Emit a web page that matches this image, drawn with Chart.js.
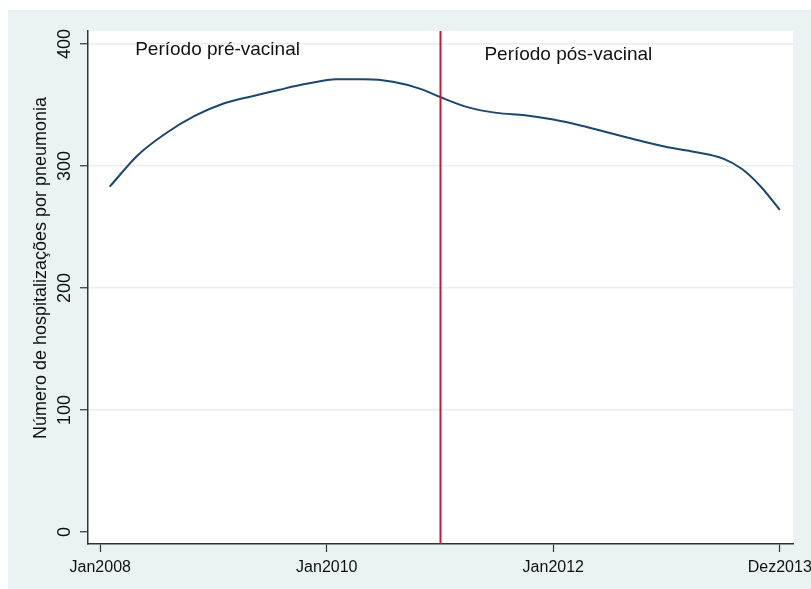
<!DOCTYPE html>
<html>
<head>
<meta charset="utf-8">
<script src="https://cdn.jsdelivr.net/npm/chart.js@4.4.1/dist/chart.umd.min.js"></script>
<style>
  html, body { margin: 0; padding: 0; background: #fff; }
  #wrap { width: 811px; height: 589px; }
</style>
</head>
<body>
<div id="wrap"><canvas id="chart" width="811" height="589"></canvas></div>
<script>
// meses contados a partir de Jan2008 (0 = Jan2008)
const months = [1, 4, 7, 10, 13, 16, 19, 22, 25, 28, 31, 34, 36, 39, 42, 45, 48, 51, 54, 57, 60, 63, 66, 68, 70, 72];
const hospitalizacoes = [283, 309, 327, 341, 351, 357, 362.5, 367.5, 371, 371, 369, 363, 356.5, 348, 343.5, 341.5, 338, 333, 327, 321, 315.5, 311.5, 306, 297.5, 283, 264];

const xTickValues = [0, 24, 48, 72];
const xTickLabels = ['Jan2008', 'Jan2010', 'Jan2012', 'Dez2013'];
const yTickValues = [0, 100, 200, 300, 400];

const vacinaMonth = 36;
const periodLabels = ['Período pré-vacinal', 'Período pós-vacinal'];
const periodX = [3.7, 40.7];
const periodY = [395, 391];

const yTitle = 'Número de hospitalizações por pneumonia';
const FONT = '"Liberation Sans", Arial, Helvetica, sans-serif';

// fundo, linha vertical, textos
const stataPlugin = {
    id: 'stata',
    beforeDraw(chart) {
        const ctx = chart.ctx;
        const a = chart.chartArea;
        ctx.save();
        ctx.fillStyle = '#eaf2f3';
        ctx.fillRect(8, 10, chart.width - 8, chart.height - 10);
        ctx.fillStyle = '#ffffff';
        ctx.fillRect(a.left, a.top, a.right - a.left, a.bottom - a.top);
        ctx.restore();
    },
    afterDatasetsDraw(chart) {
        const ctx = chart.ctx;
        const a = chart.chartArea;
        const xs = chart.scales.x;
        const ys = chart.scales.y;
        ctx.save();
        // linha de introdução da vacina
        const vx = Math.round(xs.getPixelForValue(vacinaMonth)) + 0.5;
        ctx.strokeStyle = '#c8173f';
        ctx.lineWidth = 2;
        ctx.beginPath();
        ctx.moveTo(vx, a.top);
        ctx.lineTo(vx, a.bottom);
        ctx.stroke();

        ctx.fillStyle = '#111';
        ctx.font = '19px ' + FONT;
        ctx.textAlign = 'left';
        ctx.textBaseline = 'middle';
        periodLabels.forEach((t, i) => {
            ctx.fillText(t, xs.getPixelForValue(periodX[i]), ys.getPixelForValue(periodY[i]));
        });

        // rótulos do eixo y (rotacionados)
        ctx.font = '18px ' + FONT;
        ctx.textAlign = 'center';
        ctx.textBaseline = 'middle';
        yTickValues.forEach(v => {
            ctx.save();
            ctx.translate(65, ys.getPixelForValue(v));
            ctx.rotate(-Math.PI / 2);
            ctx.fillText(String(v), 0, 0);
            ctx.restore();
        });

        // título do eixo y
        ctx.save();
        ctx.translate(41, 268);
        ctx.rotate(-Math.PI / 2);
        ctx.fillText(yTitle, 0, 0);
        ctx.restore();
        ctx.restore();
    }
};

const chart = new Chart(document.getElementById('chart').getContext('2d'), {
    type: 'line',
    data: {
        datasets: [{
            label: 'Hospitalizações',
            data: months.map((m, i) => ({ x: m, y: hospitalizacoes[i] })),
            borderColor: '#1a476f',
            borderWidth: 2,
            pointRadius: 0,
            fill: false,
            cubicInterpolationMode: 'monotone'
        }]
    },
    options: {
        responsive: false,
        animation: false,
        layout: { padding: { left: 0, top: 31, right: 18, bottom: 0 } },
        plugins: {
            legend: { display: false },
            tooltip: { enabled: false }
        },
        scales: {
            x: {
                type: 'linear',
                min: -1.3,
                max: 73.4,
                afterBuildTicks: s => { s.ticks = xTickValues.map(v => ({ value: v })); },
                afterFit: s => { s.height = 45; s.paddingLeft = 0; s.paddingRight = 0; },
                grid: { drawOnChartArea: false, tickLength: 8, tickColor: '#333', tickWidth: 1.2 },
                border: { color: '#333', width: 1.5 },
                ticks: {
                    padding: 6,
                    maxRotation: 0,
                    autoSkip: false,
                    color: '#111',
                    font: { family: FONT, size: 16 },
                    callback: v => xTickLabels[xTickValues.indexOf(v)]
                }
            },
            y: {
                min: -9.8,
                max: 410.6,
                afterBuildTicks: s => { s.ticks = yTickValues.map(v => ({ value: v })); },
                afterFit: s => { s.width = 88; s.paddingTop = 0; s.paddingBottom = 0; },
                grid: {
                    color: ctx => ctx.tick && ctx.tick.value === 0 ? 'rgba(0,0,0,0)' : '#e6eef0',
                    lineWidth: 1.5,
                    tickLength: 8,
                    tickColor: '#333',
                    tickWidth: 1.2
                },
                border: { color: '#333', width: 1.5 },
                ticks: { display: false }
            }
        }
    },
    plugins: [stataPlugin]
});
</script>
</body>
</html>
